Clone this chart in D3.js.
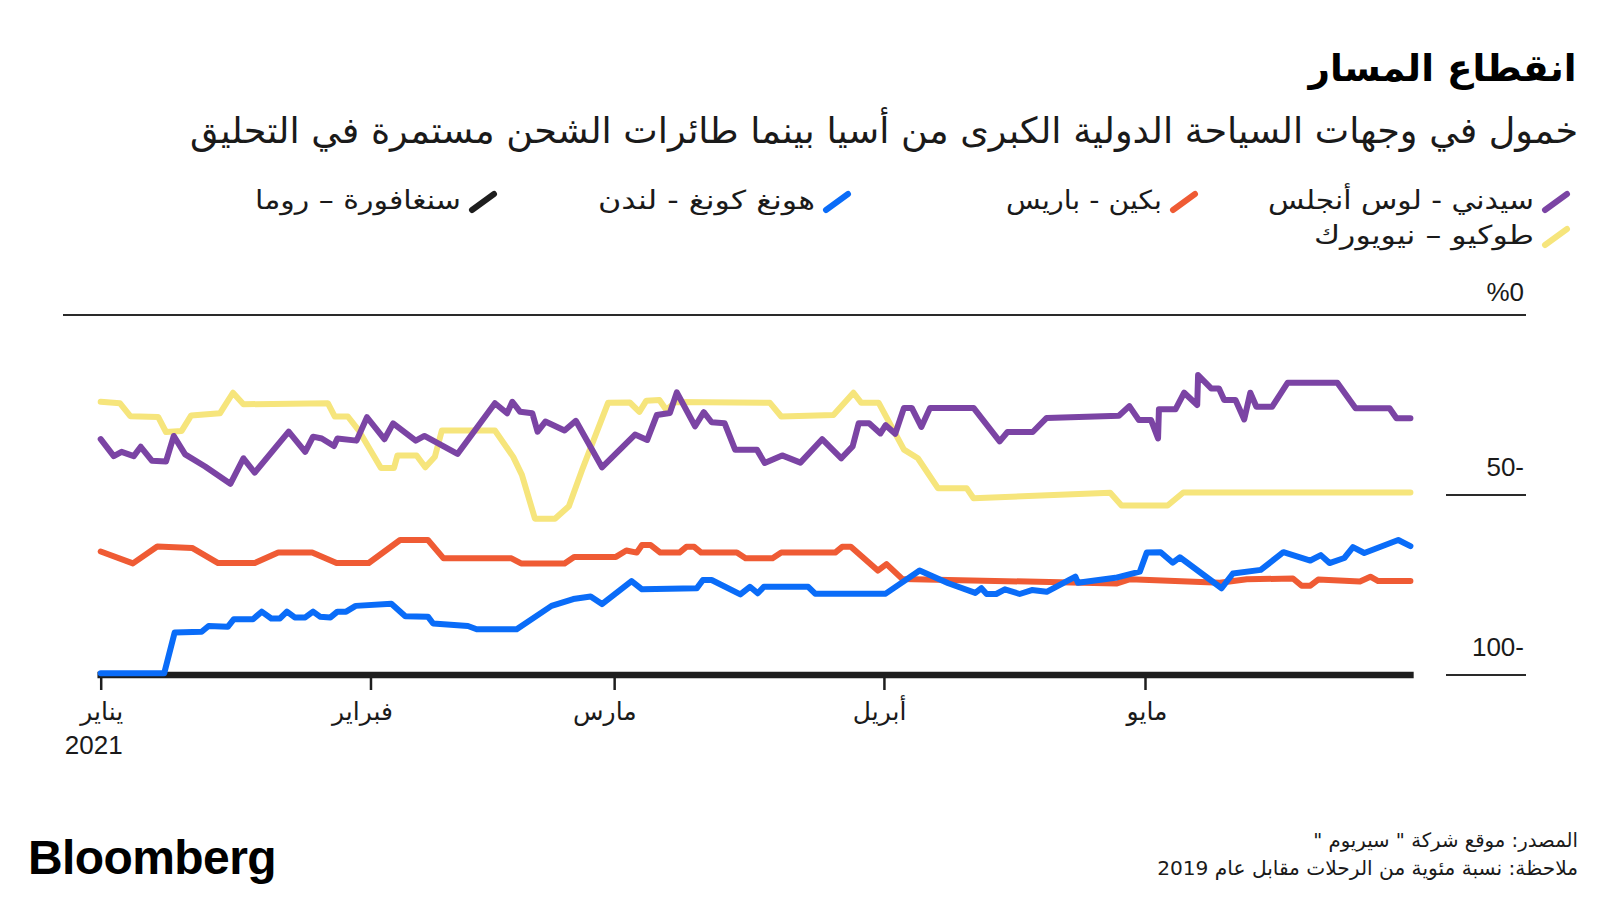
<!DOCTYPE html>
<html>
<head>
<meta charset="utf-8">
<script src="https://cdn.jsdelivr.net/npm/d3@7"></script>
<style>
html, body { margin: 0; padding: 0; background: #ffffff; }
svg { display: block; }
</style>
</head>
<body>
<svg id="chart" width="1600" height="900"></svg>
<script>
// ---------------- DATA ----------------
const titleText = "انقطاع المسار";
const subtitleText = "خمول في وجهات السياحة الدولية الكبرى من أسيا بينما طائرات الشحن مستمرة في التحليق";
const sourceText = "المصدر: موقع شركة \" سيريوم \"";
const noteText = "ملاحظة: نسبة مئوية من الرحلات مقابل عام 2019";

const seriesNames = ["سيدني - لوس أنجلس", "بكين - باريس", "هونغ كونغ - لندن", "سنغافورة – روما", "طوكيو – نيويورك"];
const seriesColors = ["#7b44a4", "#ef5b34", "#0a6cf8", "#1e1e1e", "#f6e57c"];

const monthLabels = ["يناير", "فبراير", "مارس", "أبريل", "مايو"];
const monthStarts = ["2021-01-01", "2021-02-01", "2021-03-01", "2021-04-01", "2021-05-01"];
const yearLabel = "2021";
const startDate = "2021-01-01";

const yTicks = [0, 50, 100];
const yTickLabels = ["%0", "50-", "100-"];

// [days since 1 Jan 2021, value]
const sydneyLosAngeles = [[0,34.5],[1.5,39.2],[2.4,38.0],[3.8,39.2],[4.6,36.6],[5.9,40.5],[7.5,40.7],[8.4,33.6],[9.7,38.7],[12.0,42.1],[14.9,46.9],[16.4,39.8],[17.7,43.8],[21.6,32.4],[23.5,38.0],[24.4,33.8],[25.4,34.3],[26.8,36.4],[27.2,34.3],[29.4,34.9],[30.6,28.4],[32.6,34.5],[33.6,30.1],[36.2,34.9],[37.2,33.6],[41.0,38.6],[45.3,24.5],[46.7,27.3],[47.3,24.1],[48.2,26.9],[49.6,27.3],[50.2,32.4],[51.1,29.6],[53.3,32.1],[54.6,29.4],[57.6,42.3],[61.4,33.2],[62.8,34.7],[63.9,27.8],[65.4,27.2],[66.2,21.5],[68.3,30.9],[69.3,27.0],[70.2,29.8],[71.7,30.1],[72.9,37.4],[75.4,37.4],[76.3,41.1],[78.3,39.0],[80.4,41.0],[82.9,34.5],[85.1,39.8],[86.4,36.5],[87.1,30.1],[88.3,30.1],[89.6,32.9],[90.2,30.6],[91.3,33.0],[92.3,25.8],[93.2,25.8],[94.3,31.1],[95.3,25.8],[100.3,25.8],[103.3,35.1],[104.2,32.5],[107.1,32.5],[108.7,28.6],[117.0,28.0],[118.2,25.3],[119.3,29.2],[120.7,29.2],[121.5,34.3],[121.6,26.2],[123.5,26.2],[124.5,21.6],[126.0,25.0],[126.1,16.7],[127.6,20.4],[128.5,20.4],[129.1,23.6],[130.4,23.6],[131.4,29.0],[132.1,21.6],[132.8,25.5],[134.6,25.5],[136.4,18.8],[142.1,18.8],[144.2,25.9],[148.1,25.9],[148.9,28.7],[150.5,28.7]];

const beijingParis = [[0,65.7],[3.7,69.0],[6.5,64.3],[10.5,64.7],[13.5,68.9],[17.7,68.9],[20.4,66.0],[24.3,66.0],[27.1,68.9],[30.8,68.9],[34.4,62.5],[37.6,62.5],[39.4,67.6],[47.2,67.6],[48.3,69.0],[53.3,69.0],[54.4,67.2],[59.2,67.2],[60.4,65.4],[61.6,66.0],[62.2,63.9],[63.2,63.9],[64.3,66.0],[66.5,66.0],[67.3,64.4],[68.2,64.4],[69.0,66.0],[73.1,66.0],[74.1,67.6],[77.2,67.6],[78.2,66.0],[84.4,66.0],[85.2,64.4],[86.2,64.4],[89.3,71.0],[90.3,69.2],[92.1,73.3],[116.7,74.6],[118.3,73.4],[128.6,74.4],[131.7,73.4],[137.0,73.2],[138.0,75.2],[139.0,75.2],[139.9,73.5],[144.7,74.0],[145.9,72.7],[146.8,73.9],[150.5,73.9]];

const hongKongLondon = [[0,99.5],[7.3,99.5],[8.5,88.2],[11.6,88.0],[12.4,86.4],[14.6,86.6],[15.3,84.5],[17.5,84.5],[18.5,82.4],[19.6,84.3],[20.6,84.3],[21.4,82.4],[22.3,84.0],[23.5,84.0],[24.4,82.4],[25.2,83.8],[26.4,84.0],[27.2,82.4],[28.2,82.4],[29.3,80.8],[33.4,80.2],[35.0,83.7],[37.6,83.8],[38.2,85.7],[42.2,86.4],[43.2,87.3],[47.8,87.3],[51.8,80.8],[54.3,78.9],[56.3,78.2],[57.6,80.3],[61.0,73.9],[62.2,76.2],[68.5,75.9],[69.2,73.6],[70.2,73.6],[73.5,77.6],[74.6,75.5],[75.5,77.3],[76.2,75.5],[81.3,75.5],[82.1,77.4],[90.2,77.4],[94.1,71.0],[97.4,74.5],[100.5,77.2],[101.2,75.9],[101.8,77.5],[102.9,77.5],[103.9,76.2],[105.6,77.5],[107.0,76.4],[108.7,76.9],[112.0,72.7],[112.3,74.4],[116.6,73.0],[119.4,71.3],[120.2,66.0],[121.8,65.9],[123.2,68.8],[124.0,67.3],[128.8,75.9],[130.1,71.8],[133.3,70.8],[135.9,65.9],[139.0,68.2],[140.2,66.7],[141.2,68.9],[142.9,67.5],[143.9,64.5],[145.2,66.1],[149.1,62.5],[150.5,64.2]];

const singaporeRome = [[0,100],[150.5,100]];

const tokyoNewYork = [[0,24.1],[2.2,24.5],[3.4,28.1],[6.6,28.3],[7.5,32.5],[9.3,32.2],[10.4,27.9],[13.7,27.3],[15.2,21.6],[16.4,24.8],[26.1,24.5],[26.9,28.2],[28.4,28.2],[29.6,31.9],[32.2,42.5],[33.7,42.5],[34.1,39.0],[36.3,39.0],[37.3,42.3],[38.4,39.4],[39.2,32.1],[45.3,32.1],[47.4,39.4],[48.4,44.4],[49.9,56.6],[52.2,56.6],[53.8,53.1],[55.3,43.1],[58.3,24.4],[60.8,24.3],[61.9,26.9],[62.7,23.8],[64.2,23.6],[65.0,26.4],[66.0,24.2],[76.9,24.4],[78.2,28.2],[84.2,27.8],[86.5,21.6],[87.4,24.4],[89.4,24.4],[92.3,37.4],[93.9,39.8],[96.2,48.1],[99.5,48.1],[100.3,50.9],[116.0,49.4],[117.3,52.9],[122.6,52.9],[124.4,49.3],[150.5,49.3]];

// series in legend order: purple, red, blue, black, yellow
const seriesData = [sydneyLosAngeles, beijingParis, hongKongLondon, singaporeRome, tokyoNewYork];
// draw order (bottom -> top)
const drawOrder = [3, 4, 1, 0, 2];

// ---------------- SETUP ----------------
const svg = d3.select("#chart");
const AR = "'DejaVu Sans', sans-serif";
const LAT = "'Liberation Sans', Arial, sans-serif";
const parseDay = d3.utcParse("%Y-%m-%d");
const t0 = parseDay(startDate);
const toDate = d => new Date(t0.getTime() + d * 864e5);

const x = d3.scaleUtc()
  .domain([parseDay(monthStarts[0]), parseDay(monthStarts[4])])
  .range([100.7, 1145]);
const y = d3.scaleLinear().domain([0, 100]).range([315, 675]);

// ---------------- TEXT HELPER ----------------
// Right-aligned Arabic text; shrinks the font if wider than target,
// stretches slightly (textLength) if narrower.
function arText(g, str, xr, yb, size, weight, fill, target) {
  const t = g.append("text")
    .attr("x", xr).attr("y", yb)
    .attr("direction", "rtl")
    .attr("text-anchor", "start")
    .style("font-family", AR)
    .style("font-size", size + "px")
    .style("font-weight", weight)
    .attr("fill", fill)
    .text(str);
  if (target) {
    const w = t.node().getComputedTextLength();
    if (w > target) {
      t.style("font-size", (size * target / w).toFixed(2) + "px");
    } else if (w < target) {
      t.attr("textLength", target).attr("lengthAdjust", "spacingAndGlyphs");
    }
  }
  return t;
}

const header = svg.append("g");
arText(header, titleText, 1576.5, 81, 44, "bold", "#000", 268);
arText(header, subtitleText, 1578, 143, 36, "normal", "#1a1a1a", 1388);

// ---------------- LEGEND ----------------
const legendLayout = [
  { right: 1571, base: 209, textLen: 266 },
  { right: 1199, base: 209, textLen: 156 },
  { right: 852,  base: 209, textLen: 217 },
  { right: 498,  base: 209, textLen: 206 },
  { right: 1571, base: 244, textLen: 220 }
];
const legend = svg.append("g");
seriesNames.forEach((name, i) => {
  const L = legendLayout[i];
  const left = L.right - 30;
  legend.append("line")
    .attr("x1", left + 4).attr("y1", L.base + 1)
    .attr("x2", left + 26).attr("y2", L.base - 15)
    .attr("stroke", seriesColors[i])
    .attr("stroke-width", 6)
    .attr("stroke-linecap", "round");
  arText(legend, name, left - 7, L.base, 26, "normal", "#1a1a1a", L.textLen);
});

// ---------------- GRID / Y LABELS ----------------
const grid = svg.append("g");
yTicks.forEach((t, i) => {
  grid.append("line")
    .attr("x1", t === 0 ? 63 : 1446).attr("x2", 1526)
    .attr("y1", y(t)).attr("y2", y(t))
    .attr("stroke", "#2a2a2a").attr("stroke-width", 2);
  grid.append("text")
    .attr("x", 1524).attr("y", y(t) - (t === 0 ? 14 : 19))
    .attr("text-anchor", "end")
    .style("font-family", LAT).style("font-size", "26px")
    .attr("fill", "#1a1a1a")
    .text(yTickLabels[i]);
});

// ---------------- X AXIS ----------------
const xAxis = d3.axisBottom(x)
  .tickValues(monthStarts.map(parseDay))
  .tickSize(15)
  .tickFormat((d, i) => monthLabels[i]);
const ax = svg.append("g").attr("transform", `translate(0,${y(100)})`).call(xAxis);
ax.select(".domain").remove();
ax.selectAll(".tick line").attr("stroke", "#1e1e1e").attr("stroke-width", 2.5);
ax.selectAll(".tick text")
  .attr("y", 45).attr("dy", 0).attr("x", 22)
  .attr("text-anchor", "end")
  .style("font-family", AR).style("font-size", "25px")
  .attr("fill", "#1a1a1a");
svg.append("text")
  .attr("x", x(parseDay(monthStarts[0])) + 22).attr("y", 754)
  .attr("text-anchor", "end")
  .style("font-family", LAT).style("font-size", "26px")
  .attr("fill", "#1a1a1a")
  .text(yearLabel);

// ---------------- LINES ----------------
const line = d3.line()
  .x(d => x(toDate(d[0])))
  .y(d => y(d[1]))
  .curve(d3.curveLinear);

const lines = svg.append("g");
drawOrder.forEach(i => {
  lines.append("path")
    .datum(seriesData[i])
    .attr("d", line)
    .attr("fill", "none")
    .attr("stroke", seriesColors[i])
    .attr("stroke-width", i === 3 ? 6.5 : 6)
    .attr("stroke-linejoin", "round")
    .attr("stroke-linecap", i === 3 ? "square" : "round");
});

// ---------------- FOOTER ----------------
const footer = svg.append("g");
arText(footer, sourceText, 1578, 847, 22, "normal", "#1a1a1a", 265);
arText(footer, noteText, 1578, 875, 22, "normal", "#1a1a1a", 421);

svg.append("text")
  .attr("x", 28).attr("y", 874)
  .style("font-family", LAT).style("font-size", "48px")
  .style("font-weight", "bold").style("letter-spacing", "-0.6px")
  .attr("fill", "#000")
  .text("Bloomberg");
</script>
</body>
</html>
